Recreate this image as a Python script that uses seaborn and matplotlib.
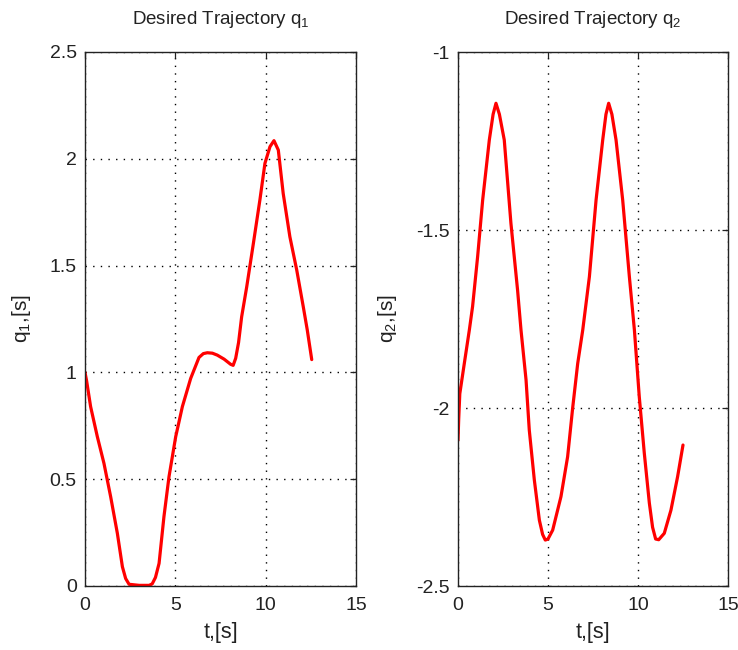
import numpy as np
import pandas as pd
import matplotlib
matplotlib.use("Agg")
import matplotlib.pyplot as plt
import seaborn as sns

# ---- data ----
t_q1 = [0.0, 0.09, 0.31, 0.68, 1.05, 1.42, 1.79, 2.07, 2.25, 2.44, 3.0, 3.55, 3.72,
        3.9, 4.1, 4.37, 4.65, 5.02, 5.39, 5.85, 6.31, 6.55, 6.77, 7.05, 7.32, 7.7,
        8.06, 8.2, 8.34, 8.5, 8.67, 8.95, 9.32, 9.68, 9.96, 10.24, 10.46, 10.7,
        10.97, 11.34, 11.72, 12.08, 12.3, 12.55]
q1 = [1.0, 0.96, 0.84, 0.70, 0.574, 0.418, 0.247, 0.09, 0.035, 0.008, 0.003, 0.003, 0.01,
      0.04, 0.106, 0.325, 0.512, 0.699, 0.84, 0.972, 1.07, 1.088, 1.092, 1.09, 1.081, 1.062,
      1.038, 1.033, 1.066, 1.14, 1.26, 1.40, 1.604, 1.807, 1.979, 2.057, 2.085, 2.041,
      1.838, 1.635, 1.479, 1.308, 1.2, 1.06]

t_q2 = [0.0, 0.04, 0.1, 0.35, 0.63, 0.81, 1.09, 1.37, 1.74, 1.95, 2.11, 2.3, 2.57,
        2.94, 3.31, 3.5, 3.78, 3.96, 4.24, 4.52, 4.7, 4.85, 5.0, 5.26, 5.72, 6.09,
        6.37, 6.65, 6.93, 7.3, 7.67, 8.04, 8.22, 8.37, 8.55, 8.78, 9.15, 9.52, 9.8,
        10.07, 10.35, 10.63, 10.81, 10.98, 11.15, 11.46, 11.83, 12.2, 12.5]
q2 = [-2.09, -2.03, -1.96, -1.875, -1.781, -1.715, -1.575, -1.416, -1.247, -1.175,
      -1.144, -1.175, -1.247, -1.481, -1.669, -1.781, -1.921, -2.062, -2.202, -2.315,
      -2.355, -2.371, -2.368, -2.343, -2.249, -2.137, -2.0, -1.875, -1.781, -1.631,
      -1.416, -1.247, -1.175, -1.144, -1.175, -1.247, -1.416, -1.631, -1.781, -1.968,
      -2.127, -2.267, -2.335, -2.368, -2.37, -2.352, -2.287, -2.193, -2.104]

x_ticks = [0, 5, 10, 15]
q1_ticks = [0, 0.5, 1, 1.5, 2, 2.5]
q1_labels = ["0", "0.5", "1", "1.5", "2", "2.5"]
q2_ticks = [-2.5, -2, -1.5, -1]
q2_labels = ["-2.5", "-2", "-1.5", "-1"]

titles = ["Desired Trajectory q$_1$", "Desired Trajectory q$_2$"]
ylabels = ["q$_1$,[s]", "q$_2$,[s]"]
xlabel = "t,[s]"

sns.set_style("white")
plt.rcParams["font.family"] = ["Liberation Sans", "DejaVu Sans"]
plt.rcParams["mathtext.default"] = "regular"

fig = plt.figure(figsize=(7.38, 6.5), dpi=100)
fig.patch.set_facecolor("white")
ax1 = fig.add_axes([85 / 738, 1 - 586 / 650, 271 / 738, 534 / 650])
ax2 = fig.add_axes([458 / 738, 1 - 586 / 650, 270 / 738, 534 / 650])

df1 = pd.DataFrame({"t": t_q1, "q": q1})
df2 = pd.DataFrame({"t": t_q2, "q": q2})

specs = [
    (ax1, df1, (0, 2.5), q1_ticks, q1_labels, titles[0], ylabels[0]),
    (ax2, df2, (-2.5, -1), q2_ticks, q2_labels, titles[1], ylabels[1]),
]

for ax, df, ylim, yt, ytl, title, ylab in specs:
    sns.lineplot(data=df, x="t", y="q", ax=ax, color="#ff0000", linewidth=2.3,
                 sort=False, estimator=None)
    ax.set_xlim(0, 15)
    ax.set_ylim(*ylim)
    ax.set_xticks(x_ticks)
    ax.set_xticklabels([str(v) for v in x_ticks])
    ax.set_yticks(yt)
    ax.set_yticklabels(ytl)
    ax.grid(True, color="black", linestyle=(0, (1, 4.5)), linewidth=1.0)
    ax.set_axisbelow(True)
    ax.tick_params(direction="in", top=True, right=True, length=4, width=0.9,
                   labelsize=14, colors="#222222")
    ax.tick_params(axis="x", pad=8)
    ax.tick_params(axis="y", pad=6)
    for sp in ax.spines.values():
        sp.set_visible(True)
        sp.set_color("#222222")
        sp.set_linewidth(1.0)
    ax.set_title(title, fontsize=13.5, pad=20, color="#222222")
    ax.set_xlabel(xlabel, fontsize=15.5, labelpad=6, color="#222222")
    ax.set_ylabel(ylab, fontsize=15, labelpad=12, color="#222222")

fig.savefig("out.png", dpi=100, facecolor="white")
